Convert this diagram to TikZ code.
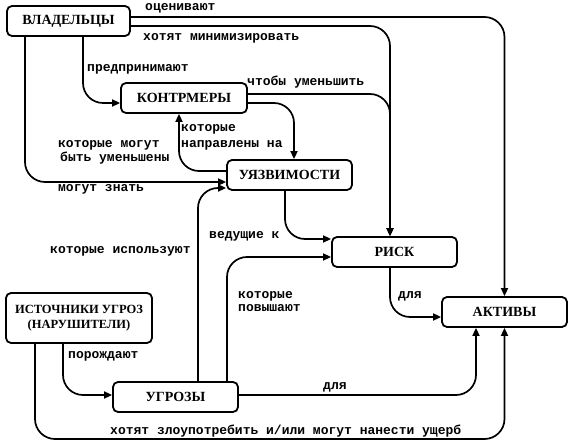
\documentclass[tikz,border=0pt]{standalone}
\usepackage{fontspec}
\setmainfont{Liberation Serif}
\newfontfamily\lblfont{Liberation Mono}
\usetikzlibrary{arrows.meta}
\begin{document}
\begin{tikzpicture}[x=1pt,y=-1pt,
  box/.style={draw, line width=1.8pt, rounded corners=5pt, minimum width=125pt,
    minimum height=30pt, inner sep=0pt, align=center,
    font=\fontsize{14}{15}\selectfont\bfseries},
  lbl/.style={anchor=base west, inner sep=0pt,
    font=\lblfont\fontsize{13}{15}\selectfont\bfseries},
  conn/.style={line width=1.7pt, rounded corners=20pt,
    -{Triangle[length=8pt,width=7pt]}}]
\useasboundingbox (0,0) rectangle (574,446);
% boxes
\node[box, minimum width=123pt] (own) at (68.5,21) {ВЛАДЕЛЬЦЫ};
\node[box, minimum width=126pt] (cm) at (184,98) {КОНТРМЕРЫ};
\node[box] (vul) at (289.5,175) {УЯЗВИМОСТИ};
\node[box] (risk) at (394.5,252) {РИСК};
\node[box] (ast) at (504.5,312) {АКТИВЫ};
\node[box, minimum width=146pt, minimum height=50pt,
  font=\fontsize{12.5}{15}\selectfont\bfseries] (src) at (79,318)
  {ИСТОЧНИКИ УГРОЗ\\(НАРУШИТЕЛИ)};
\node[box] (thr) at (175.5,397) {УГРОЗЫ};
% connectors
\draw[conn] (own.east |- 0,17) -| (ast.north);
\draw[conn] (own.east |- 0,26) -| (390,0 |- risk.north);
\draw[conn] (cm.east |- 0,94) -| (390,0 |- risk.north);
\draw[conn] (83,0 |- own.south) |- (cm.west |- 0,103);
\draw[conn] (25,0 |- own.south) |- (vul.west |- 0,182);
\draw[conn] (cm.east |- 0,103) -| (294,0 |- vul.north);
\draw[conn] (vul.west |- 0,171) -| (179,0 |- cm.south);
\draw[conn] (285,0 |- vul.south) |- (risk.west |- 0,239);
\draw[conn] (198,0 |- thr.north) |- (vul.west |- 0,188);
\draw[conn] (227,0 |- thr.north) |- (risk.west |- 0,257);
\draw[conn] (63,0 |- src.south) |- (thr.west |- 0,395);
\draw[conn] (thr.east |- 0,395) -| (476,0 |- ast.south);
\draw[conn] (35,0 |- src.south) -- (35,439) -- (ast.south |- 0,439) -- (ast.south);
\draw[conn] (390,0 |- risk.south) |- (ast.west |- 0,317);
% labels
\node[lbl] (lval) at (145,11) {оценивают};
\node[lbl] (lmin) at (143,41) {хотят минимизировать};
\node[lbl] (ltake) at (87,72) {предпринимают};
\node[lbl] (lred) at (247,86) {чтобы уменьшить};
\node[lbl] (laim1) at (181,132) {которые};
\node[lbl] (laim2) at (181,148) {направлены на};
\node[lbl] (lcan1) at (58,148) {которые могут};
\node[lbl] (lcan2) at (60,162) {быть уменьшены};
\node[lbl] (lknow) at (58,192) {могут знать};
\node[lbl] (llead) at (209,239) {ведущие к};
\node[lbl] (luse) at (50,254) {которые используют};
\node[lbl] (lrise1) at (238,299) {которые};
\node[lbl] (lrise2) at (238,312) {повышают};
\node[lbl] (lgen) at (68,359) {порождают};
\node[lbl] (lfor1) at (323,390) {для};
\node[lbl] (lfor2) at (398,299) {для};
\node[lbl] (labuse) at (110,435) {хотят злоупотребить и/или могут нанести ущерб};
\end{tikzpicture}
\end{document}
